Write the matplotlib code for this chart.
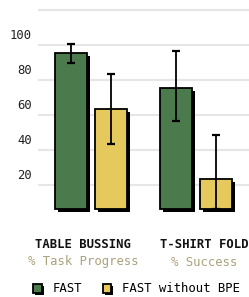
import matplotlib
matplotlib.use("Agg")
import matplotlib.pyplot as plt
import matplotlib.patheffects as pe
from matplotlib.patches import Rectangle
import numpy as np

plt.rcParams['font.family'] = ['DejaVu Sans Mono']

tasks = ["TABLE BUSSING", "T-SHIRT FOLD"]
metrics = ["% Task Progress", "% Success"]
series = ["FAST", "FAST without BPE"]
fast_vals = [89, 69]
fast_err_lo = [6, 19]
fast_err_hi = [5, 21]
nobpe_vals = [57, 17]
nobpe_err_lo = [20, 17]
nobpe_err_hi = [20, 25]
yticks = [20, 40, 60, 80, 100]

GREEN = "#4b7b4d"
YELLOW = "#e6c95c"
TAN = "#aaa27c"
GRID = "#e6e6e6"

W, H = 249, 297
fig = plt.figure(figsize=(W / 100, H / 100), dpi=100)
ax = fig.add_axes([38 / W, (H - 215) / H, (W - 38) / W, 215 / H])

px_per_unit = 1.75
ax.set_ylim(-3.7, -3.7 + 215 / px_per_unit)
ax.set_xlim(-0.5, 1.5)

# gridlines (offset from the labelled values as in the reference)
grid_offset = 13.4
for v in [0] + yticks:
    ax.axhline(v + grid_offset, color=GRID, lw=1.5, zorder=0)

x = np.arange(len(tasks))
bw = 0.303
off = 0.19
shadow = [pe.SimplePatchShadow(offset=(2.2, -2.2), shadow_rgbFace='black', alpha=1.0), pe.Normal()]

b1 = ax.bar(x - off, fast_vals, bw, color=GREEN, edgecolor='black', linewidth=1.3, zorder=2)
b2 = ax.bar(x + off, nobpe_vals, bw, color=YELLOW, edgecolor='black', linewidth=1.3, zorder=2)
for b in list(b1) + list(b2):
    b.set_path_effects(shadow)
    b.set_clip_on(False)

ax.errorbar(x - off, fast_vals, yerr=[fast_err_lo, fast_err_hi], fmt='none', ecolor='black',
            elinewidth=1.3, capsize=3.2, capthick=1.6, zorder=3)
ax.errorbar(x + off, nobpe_vals, yerr=[nobpe_err_lo, nobpe_err_hi], fmt='none', ecolor='black',
            elinewidth=1.3, capsize=3.2, capthick=1.6, zorder=3)

ax.set_yticks(yticks)
ax.set_yticklabels([str(t) for t in yticks], fontsize=8.8, color='#222222')
ax.tick_params(axis='y', length=0, pad=4.3)
ax.set_xticks([])
for s in ax.spines.values():
    s.set_visible(False)

label_x = [83, 204]
for lx, t, m in zip(label_x, tasks, metrics):
    fig.text(lx / W, 1 - 245 / H, t, ha='center', va='center', fontsize=8.8,
             fontweight='bold', color='#111111')
    fig.text(lx / W, 1 - 262 / H, m, ha='center', va='center', fontsize=8.8, color=TAN)

handles = []
for c in [GREEN, YELLOW]:
    r = Rectangle((0, 0), 1, 1, facecolor=c, edgecolor='black', linewidth=1.3)
    r.set_path_effects([pe.SimplePatchShadow(offset=(1.5, -1.5), shadow_rgbFace='black', alpha=1.0), pe.Normal()])
    handles.append(r)
fig.legend(handles, series, loc='center left', bbox_to_anchor=(33 / W, 1 - 289 / H),
           frameon=False, fontsize=8.8, ncol=2, handlelength=0.7, handleheight=0.7,
           handletextpad=0.9, columnspacing=1.7, borderpad=0, borderaxespad=0)

fig.savefig("out.png", dpi=100)
